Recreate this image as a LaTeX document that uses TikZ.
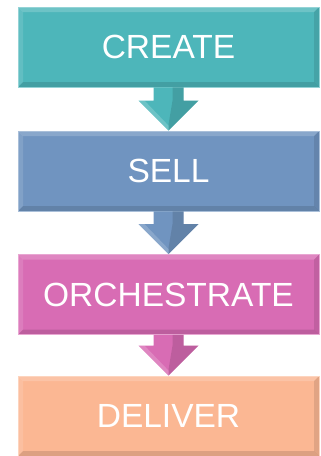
\documentclass[tikz,border=0pt]{standalone}
\usepackage{fontspec}
\setmainfont{Liberation Sans}
\usetikzlibrary{calc}
\definecolor{cteal}{HTML}{4DB6BA}
\definecolor{cblue}{HTML}{7094C0}
\definecolor{cpink}{HTML}{D86CB4}
\definecolor{cpeach}{HTML}{FBB793}
\tikzset{
  stagebox/.style={rectangle, minimum width=301pt, minimum height=80pt, inner sep=0pt,
    fill=#1, draw=#1!60!white, line width=0.8pt, text=white,
    font=\fontsize{33.5}{36}\selectfont,
    path picture={
      \fill[white,opacity=0.18] (path picture bounding box.north west) -- (path picture bounding box.north east)
        -- ($(path picture bounding box.north east)+(-5pt,-5pt)$) -- ($(path picture bounding box.north west)+(5pt,-5pt)$) -- cycle;
      \fill[white,opacity=0.12] (path picture bounding box.north west) -- ($(path picture bounding box.north west)+(5pt,-5pt)$)
        -- ($(path picture bounding box.south west)+(5pt,5pt)$) -- (path picture bounding box.south west) -- cycle;
      \fill[black,opacity=0.12] (path picture bounding box.south west) -- ($(path picture bounding box.south west)+(5pt,5pt)$)
        -- ($(path picture bounding box.south east)+(-5pt,5pt)$) -- (path picture bounding box.south east) -- cycle;
      \fill[black,opacity=0.10] (path picture bounding box.north east) -- ($(path picture bounding box.north east)+(-5pt,-5pt)$)
        -- ($(path picture bounding box.south east)+(-5pt,5pt)$) -- (path picture bounding box.south east) -- cycle;
    }},
  flowarrow/.style={fill=#1}
}
\newcommand{\flowarr}[3]{%
  \fill[fill=#3] ($(#1.south)+(-15pt,0)$) -- ($(#2.north)+(-15pt,30pt)$) -- ($(#2.north)+(-30pt,30pt)$)
    -- (#2.north) -- ($(#2.north)+(30pt,30pt)$) -- ($(#2.north)+(15pt,30pt)$) -- ($(#1.south)+(15pt,0)$) -- cycle;
  \fill[black,opacity=0.12] ($(#1.south)+(4pt,0)$) -- ($(#2.north)+(4pt,30pt)$) -- ($(#2.north)+(30pt,30pt)$)
    -- (#2.north) -- ($(#2.north)+(0pt,6pt)$) -- ($(#2.north)+(4pt,30pt)$) -- ($(#2.north)+(15pt,30pt)$) -- ($(#1.south)+(15pt,0)$) -- cycle;
  \fill[white,opacity=0.18] ($(#2.north)+(-30pt,30pt)$) -- ($(#2.north)+(-24pt,30pt)$) -- ($(#2.north)+(0pt,5pt)$) -- (#2.north) -- cycle;
}
\begin{document}
\begin{tikzpicture}[x=1pt,y=-1pt]
\useasboundingbox (0,0) rectangle (321,456);
\node[stagebox=cteal] (b1) at (168.5,47) {CREATE};
\node[stagebox=cblue] (b2) at (168.5,171) {SELL};
\node[stagebox=cpink] (b3) at (168.5,294.5) {ORCHESTRATE};
\node[stagebox=cpeach] (b4) at (168.5,416) {DELIVER};
\flowarr{b1}{b2}{cteal}
\flowarr{b2}{b3}{cblue}
\flowarr{b3}{b4}{cpink}
\end{tikzpicture}
\end{document}
